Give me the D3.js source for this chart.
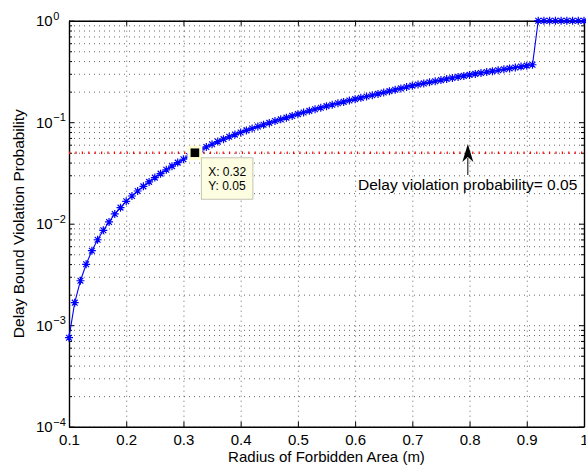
<!DOCTYPE html>
<html>
<head>
<meta charset="utf-8">
<script src="https://cdn.jsdelivr.net/npm/d3@7"></script>
<style>
  html, body { margin: 0; padding: 0; background: #fff; }
  svg { display: block; font-family: "Liberation Sans", Arial, Helvetica, sans-serif; }
</style>
</head>
<body>
<svg id="chart" width="586" height="466"></svg>
<script>
// Radius of the forbidden area (m)
const radius = [
  0.10, 0.11, 0.12, 0.13, 0.14, 0.15, 0.16, 0.17, 0.18, 0.19,
  0.20, 0.21, 0.22, 0.23, 0.24, 0.25, 0.26, 0.27, 0.28, 0.29,
  0.30, 0.31, 0.32, 0.33, 0.34, 0.35, 0.36, 0.37, 0.38, 0.39,
  0.40, 0.41, 0.42, 0.43, 0.44, 0.45, 0.46, 0.47, 0.48, 0.49,
  0.50, 0.51, 0.52, 0.53, 0.54, 0.55, 0.56, 0.57, 0.58, 0.59,
  0.60, 0.61, 0.62, 0.63, 0.64, 0.65, 0.66, 0.67, 0.68, 0.69,
  0.70, 0.71, 0.72, 0.73, 0.74, 0.75, 0.76, 0.77, 0.78, 0.79,
  0.80, 0.81, 0.82, 0.83, 0.84, 0.85, 0.86, 0.87, 0.88, 0.89, 0.90, 0.91,
  0.92, 0.93, 0.94, 0.95, 0.96, 0.97, 0.98, 0.99, 1.00
];

// Delay bound violation probability at each radius
const violationProb = [
  0.000753, 0.001667, 0.002742, 0.003981, 0.005420, 0.006950, 0.008610, 0.01040, 0.01247, 0.01439,
  0.01663, 0.01875, 0.02099, 0.02334, 0.02582, 0.02845, 0.03112, 0.03396, 0.03690, 0.03999,
  0.04315, 0.04645, 0.05000, 0.05346, 0.05702, 0.06067, 0.06442, 0.06808, 0.07178, 0.07551,
  0.07925, 0.08299, 0.08670, 0.09057, 0.09441, 0.09840, 0.1026, 0.1067, 0.1109, 0.1153,
  0.1200, 0.1247, 0.1294, 0.1343, 0.1390, 0.1439, 0.1486, 0.1535, 0.1585, 0.1637,
  0.1687, 0.1738, 0.1791, 0.1845, 0.1901, 0.1959, 0.2023, 0.2089, 0.2153, 0.2223,
  0.2291, 0.2350, 0.2410, 0.2472, 0.2535, 0.2600, 0.2667, 0.2729, 0.2793, 0.2858,
  0.2924, 0.2992, 0.3055, 0.3119, 0.3184, 0.3251, 0.3319, 0.3388, 0.3459, 0.3532, 0.3606, 0.3681,
  1, 1, 1, 1, 1, 1, 1, 1, 1
];

const threshold = 0.05;
const tipIndex = 22; // data tip on the point where the curve reaches the threshold

const xTickValues = [0.1, 0.2, 0.3, 0.4, 0.5, 0.6, 0.7, 0.8, 0.9, 1];
const xTickLabels = ["0.1", "0.2", "0.3", "0.4", "0.5", "0.6", "0.7", "0.8", "0.9", "1"];
const yDecades = [1e-4, 1e-3, 1e-2, 1e-1, 1];
const yDecadeExponents = ["\u22124", "\u22123", "\u22122", "\u22121", "0"];

const xLabel = "Radius of Forbidden Area (m)";
const yLabel = "Delay Bound Violation Probability";
const annotationText = "Delay violation probability= 0.05";

// ---- layout ----
const plot = { left: 69, right: 584, top: 20.7, bottom: 426.7 };
const svg = d3.select("#chart");
svg.append("rect").attr("width", 586).attr("height", 466).attr("fill", "#fff");

const x = d3.scaleLinear().domain([0.1, 1]).range([plot.left, plot.right]);
const y = d3.scaleLog().domain([1e-4, 1]).range([plot.bottom, plot.top]);

const yMinor = yDecades.slice(0, -1).flatMap(d => d3.range(2, 10).map(k => k * d));

// ---- dotted grid ----
const grid = svg.append("g");
grid.append("g").attr("transform", `translate(${plot.left},0)`)
  .call(d3.axisLeft(y).tickValues([...yDecades, ...yMinor])
    .tickSize(-(plot.right - plot.left)).tickFormat(""))
  .call(g => g.select(".domain").remove());
grid.append("g").attr("transform", `translate(0,${plot.bottom})`)
  .call(d3.axisBottom(x).tickValues(xTickValues)
    .tickSize(-(plot.bottom - plot.top)).tickFormat(""))
  .call(g => g.select(".domain").remove());
grid.selectAll("line")
  .attr("stroke", "#000").attr("stroke-opacity", 0.6)
  .attr("stroke-width", 1).attr("stroke-dasharray", "1,4");

// ---- axes (box with inward ticks) ----
function styleAxis(g) {
  g.attr("font-size", 15).attr("font-family", null);
  g.selectAll(".domain").attr("stroke", "#000").attr("stroke-width", 1.4);
  g.selectAll(".tick line").attr("stroke", "#000").attr("stroke-width", 1);
}

// bottom
svg.append("g").attr("transform", `translate(0,${plot.bottom})`)
  .call(d3.axisBottom(x).tickValues(xTickValues).tickSizeInner(-5).tickSizeOuter(0)
    .tickPadding(8).tickFormat((d, i) => xTickLabels[i]))
  .call(styleAxis)
  .call(g => g.selectAll(".tick text").attr("fill", "#000"));

// top
svg.append("g").attr("transform", `translate(0,${plot.top})`)
  .call(d3.axisTop(x).tickValues(xTickValues).tickSizeInner(-5).tickSizeOuter(0).tickFormat(""))
  .call(styleAxis);

// left (decades with labels)
svg.append("g").attr("transform", `translate(${plot.left},0)`)
  .call(d3.axisLeft(y).tickValues(yDecades).tickSizeInner(-5).tickSizeOuter(0).tickFormat(""))
  .call(styleAxis)
  .call(g => g.selectAll(".tick").each(function (d) {
    const i = yDecades.indexOf(d);
    const t = d3.select(this).select("text")
      .attr("x", -33).attr("y", 5.2).attr("dy", null)
      .attr("text-anchor", "start").attr("fill", "#000");
    t.append("tspan").text("10");
    t.append("tspan").attr("dy", -6.8).attr("dx", 0.6).attr("font-size", 11).text(yDecadeExponents[i]);
  }));
svg.append("g").attr("transform", `translate(${plot.left},0)`)
  .call(d3.axisLeft(y).tickValues(yMinor).tickSizeInner(-3).tickSizeOuter(0).tickFormat(""))
  .call(styleAxis).call(g => g.select(".domain").remove());

// right
svg.append("g").attr("transform", `translate(${plot.right},0)`)
  .call(d3.axisRight(y).tickValues(yDecades).tickSizeInner(-5).tickSizeOuter(0).tickFormat(""))
  .call(styleAxis);
svg.append("g").attr("transform", `translate(${plot.right},0)`)
  .call(d3.axisRight(y).tickValues(yMinor).tickSizeInner(-3).tickSizeOuter(0).tickFormat(""))
  .call(styleAxis).call(g => g.select(".domain").remove());

// ---- threshold line ----
svg.append("line")
  .attr("x1", x(0.1)).attr("x2", x(1))
  .attr("y1", y(threshold)).attr("y2", y(threshold))
  .attr("stroke", "#ff0000").attr("stroke-width", 2.4)
  .attr("stroke-dasharray", "1.2,5.2");

// ---- curve with asterisk markers ----
const line = d3.line().x((d, i) => x(radius[i])).y(d => y(d));
svg.append("path").datum(violationProb)
  .attr("d", line).attr("fill", "none")
  .attr("stroke", "#0000ff").attr("stroke-width", 1.1);

const star = r => {
  const q = r * 0.72;
  return `M${-r},0H${r}M0,${-r}V${r}M${-q},${-q}L${q},${q}M${-q},${q}L${q},${-q}`;
};
svg.append("g").selectAll("path").data(violationProb).join("path")
  .attr("transform", (d, i) => `translate(${x(radius[i])},${y(d)})`)
  .attr("d", star(4))
  .attr("fill", "none").attr("stroke", "#0000ff").attr("stroke-width", 1.2);

// ---- data tip ----
const tx = x(radius[tipIndex]);
const ty = y(violationProb[tipIndex]);
const tip = svg.append("g");
tip.append("rect").attr("x", tx - 7.5).attr("y", ty - 7).attr("width", 15).attr("height", 14.5)
  .attr("fill", "#ffffd6");
tip.append("rect").attr("x", tx - 4.3).attr("y", ty - 4.3).attr("width", 8.6).attr("height", 8.6)
  .attr("fill", "#000");
tip.append("rect").attr("x", tx + 6.5).attr("y", ty + 5).attr("width", 51.5).attr("height", 41.5)
  .attr("fill", "#fdfde2").attr("stroke", "#c4c4b4").attr("stroke-width", 1);
tip.append("text").attr("x", tx + 13.3).attr("y", ty + 23.2)
  .attr("font-size", 12).attr("fill", "#000")
  .text("X: " + d3.format(".2f")(radius[tipIndex]));
tip.append("text").attr("x", tx + 13.3).attr("y", ty + 37.2)
  .attr("font-size", 12).attr("fill", "#000")
  .text("Y: " + d3.format(".2f")(violationProb[tipIndex]));

// ---- annotation arrow and text ----
const ax = x(0.797);
const tipY = 144, backY = 162, tailY = 175;
svg.append("line").attr("x1", ax).attr("x2", ax).attr("y1", backY - 4).attr("y2", tailY)
  .attr("stroke", "#000").attr("stroke-width", 1);
svg.append("path")
  .attr("d", `M${ax},${tipY}L${ax + 5.5},${backY}L${ax},${backY - 5}L${ax - 5.5},${backY}Z`)
  .attr("fill", "#000");
svg.append("text").attr("x", 358).attr("y", 190)
  .attr("font-size", 15.5).attr("fill", "#000").text(annotationText);

// ---- axis labels ----
svg.append("text")
  .attr("x", (plot.left + plot.right) / 2).attr("y", 462)
  .attr("text-anchor", "middle").attr("font-size", 15).attr("fill", "#000")
  .text(xLabel);
svg.append("text")
  .attr("transform", `translate(24,${(plot.top + plot.bottom) / 2}) rotate(-90)`)
  .attr("text-anchor", "middle").attr("font-size", 15.5).attr("fill", "#000")
  .text(yLabel);
</script>
</body>
</html>
